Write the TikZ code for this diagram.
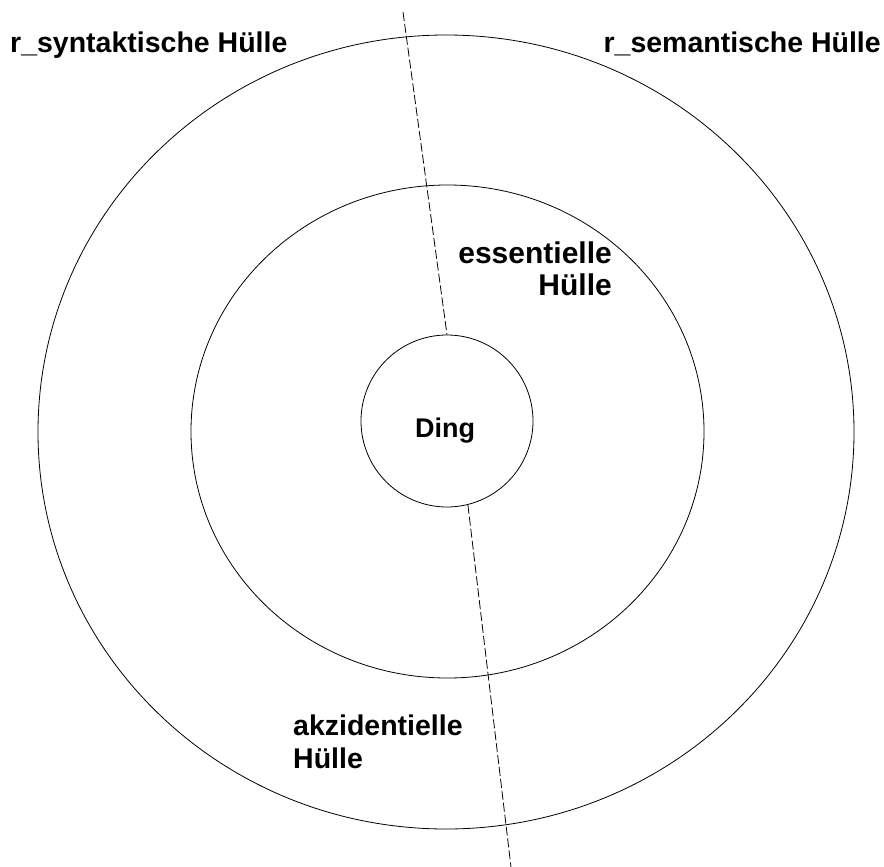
\documentclass[tikz,border=0pt]{standalone}
\usepackage{fontspec}
\setmainfont{Liberation Sans}
\begin{document}
\begin{tikzpicture}[x=1pt,y=-1pt,
  ring/.style={draw=black,line width=0.8pt},
  divider/.style={draw=black,line width=0.8pt,dash pattern=on 9pt off 3pt},
  lbl/.style={font=\fontsize{28.5}{33}\selectfont\bfseries,inner sep=0pt,align=left}]
\useasboundingbox (0,0) rectangle (884,867);
\draw[ring] (446,432) ellipse [x radius=408, y radius=397];
\draw[ring] (447.5,431.5) ellipse [x radius=256.5, y radius=246.5];
\node[ring,circle,minimum size=172pt,inner sep=0pt] (ding) at (447,421) {};
\node[lbl,font=\fontsize{27}{33}\selectfont\bfseries,anchor=base] (dingtext) at (445,437) {Ding};
\coordinate (top) at (403,12);
\coordinate (bot) at (511,867);
\draw[divider] (top) -- (ding.north);
\draw[divider] (ding.-76) -- (bot);
\node[lbl,anchor=base west] (syn) at (10,53) {r\_syntaktische Hülle};
\node[lbl,anchor=base east] (sem) at (881,53) {r\_semantische Hülle};
\node[lbl,font=\fontsize{30}{32}\selectfont\bfseries,anchor=base east,align=right] (ess) at (612,295) {essentielle\\Hülle};
\node[lbl,anchor=base west] (akz) at (293,768) {akzidentielle\\Hülle};
\end{tikzpicture}
\end{document}
